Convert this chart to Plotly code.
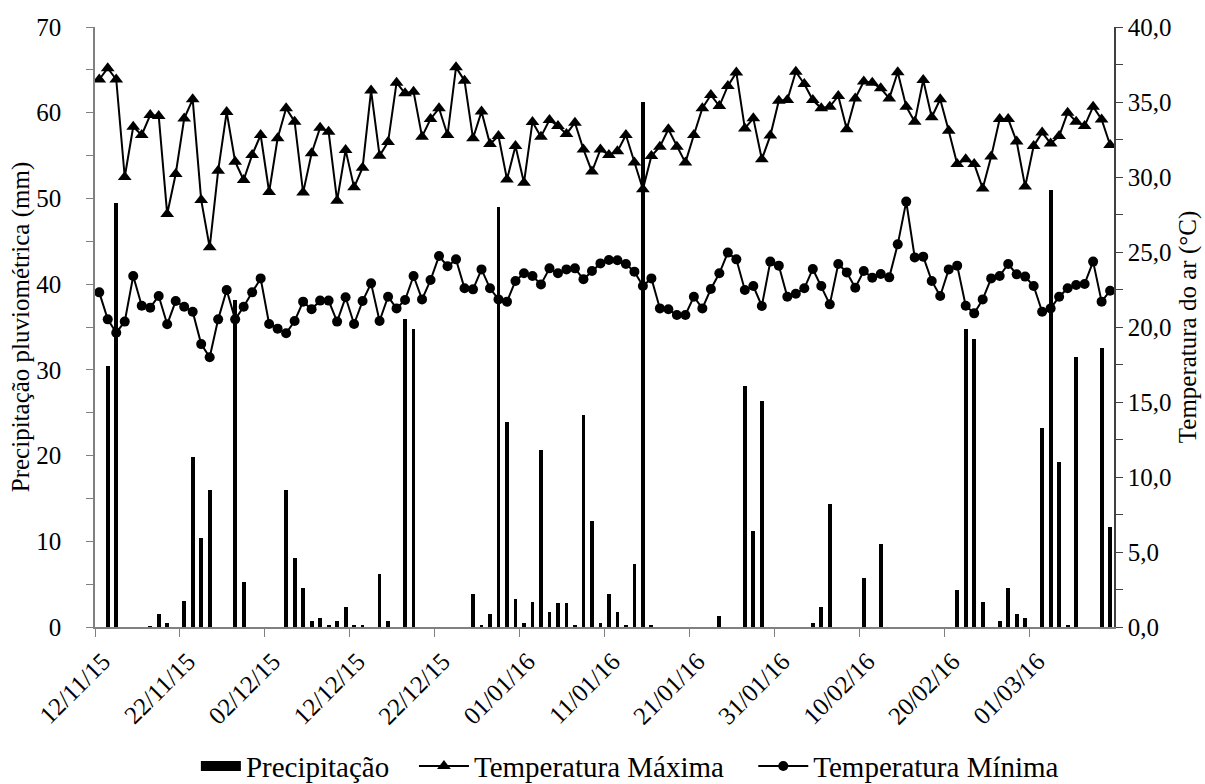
import pandas as pd
import plotly.graph_objects as go

start_date = "2015-11-12"
n_days = 120
dates = pd.date_range(start_date + " 12:00", periods=n_days, freq="D")

precip = [0, 30.4, 49.5, 0, 0, 0, 0.1, 1.5, 0.5, 0,
          3.0, 19.8, 10.4, 16.0, 0, 0, 38.1, 5.3, 0, 0,
          0, 0, 16.0, 8.1, 4.6, 0.7, 1.0, 0.25, 0.7, 2.3,
          0.25, 0.25, 0, 6.2, 0.7, 0, 35.9, 34.8, 0, 0,
          0, 0, 0, 0, 3.8, 0.25, 1.5, 49.0, 23.9, 3.3,
          0.5, 2.9, 20.6, 1.75, 2.8, 2.8, 0.25, 24.7, 12.4, 0.5,
          3.8, 1.75, 0.25, 7.35, 61.2, 0.25, 0, 0, 0, 0,
          0, 0, 0, 1.3, 0, 0, 28.1, 11.2, 26.4, 0,
          0, 0, 0, 0, 0.45, 2.3, 14.3, 0, 0, 0,
          5.7, 0, 9.7, 0, 0, 0, 0, 0, 0, 0,
          0, 4.3, 34.8, 33.6, 2.9, 0, 0.7, 4.5, 1.5, 1.0,
          0, 23.2, 51.0, 19.3, 0.25, 31.5, 0, 0, 32.5, 11.7]

tmax = [36.5, 37.25, 36.5, 30.0, 33.35, 32.8, 34.13, 34.07, 27.53, 30.2,
        33.9, 35.18, 28.47, 25.31, 30.42, 34.33, 31.02, 29.8, 31.47, 32.8,
        29.0, 32.58, 34.58, 33.69, 28.96, 31.58, 33.29, 33.02, 28.42, 31.8,
        29.31, 30.62, 35.76, 31.42, 32.33, 36.29, 35.58, 35.69, 32.69, 33.87,
        34.58, 32.8, 37.31, 36.42, 32.58, 34.36, 32.2, 32.73, 29.84, 32.07,
        29.62, 33.67, 32.69, 33.8, 33.4, 32.87, 33.62, 31.84, 30.36, 31.84,
        31.47, 31.71, 32.8, 30.96, 29.18, 31.4, 32.02, 33.18, 32.02, 30.96,
        32.8, 34.58, 35.47, 34.73, 36.07, 36.96, 33.24, 33.91, 31.18, 32.76,
        35.09, 35.13, 37.02, 36.2, 35.13, 34.58, 34.69, 35.4, 33.18, 35.24,
        36.36, 36.29, 35.91, 35.24, 36.98, 34.69, 33.69, 36.47, 33.98, 35.18,
        33.09, 30.87, 31.18, 30.87, 29.24, 31.36, 33.87, 33.87, 32.36, 29.36,
        32.07, 32.96, 32.24, 32.73, 34.29, 33.69, 33.4, 34.69, 33.84, 32.13]

tmin = [22.31, 20.51, 19.62, 20.36, 23.4, 21.42, 21.29, 22.07, 20.18, 21.73,
        21.35, 21.02, 18.86, 17.98, 20.51, 22.47, 20.51, 21.35, 22.31, 23.24,
        20.2, 19.89, 19.58, 20.4, 21.69, 21.18, 21.76, 21.76, 20.36, 21.98,
        20.2, 21.73, 22.91, 20.4, 22.02, 21.24, 21.8, 23.4, 21.84, 23.13,
        24.73, 24.05, 24.51, 22.58, 22.51, 23.84, 22.58, 21.84, 21.69, 23.07,
        23.58, 23.4, 22.84, 23.91, 23.58, 23.84, 23.91, 23.18, 23.73, 24.24,
        24.47, 24.45, 24.2, 23.69, 22.73, 23.24, 21.24, 21.18, 20.8, 20.8,
        22.02, 21.24, 22.53, 23.58, 24.96, 24.51, 22.47, 22.73, 21.4, 24.36,
        24.09, 22.02, 22.22, 22.58, 23.87, 22.73, 21.51, 24.2, 23.64, 22.62,
        23.73, 23.29, 23.53, 23.31, 25.51, 28.36, 24.64, 24.69, 23.07, 22.07,
        23.84, 24.09, 21.42, 20.91, 21.84, 23.24, 23.4, 24.2, 23.51, 23.36,
        22.73, 21.02, 21.24, 22.02, 22.58, 22.8, 22.87, 24.36, 21.69, 22.42]

names = ["Precipitação", "Temperatura Máxima", "Temperatura Mínima"]
left_title = "Precipitação pluviométrica (mm)"
right_title = "Temperatura do ar (°C)"

FONT = "Liberation Serif"
DAY_MS = 86400000

fig = go.Figure()
fig.add_trace(go.Bar(x=dates, y=precip, name=names[0], yaxis="y", showlegend=False,
                     marker=dict(color="black", line=dict(width=0)),
                     width=0.45 * DAY_MS))
# legend-only entry drawn as a wide black block like the reference
fig.add_trace(go.Scatter(x=[None], y=[None], name=names[0], yaxis="y", legend="legend",
                         mode="lines", line=dict(color="black", width=14)))
fig.add_trace(go.Scatter(x=dates, y=tmax, name=names[1], yaxis="y2", legend="legend2",
                         mode="lines+markers",
                         line=dict(color="black", width=2),
                         marker=dict(symbol="triangle-up", size=12, color="black")))
fig.add_trace(go.Scatter(x=dates, y=tmin, name=names[2], yaxis="y2", legend="legend3",
                         mode="lines+markers",
                         line=dict(color="black", width=2),
                         marker=dict(symbol="circle", size=10, color="black")))

end_ts = pd.Timestamp(start_date) + pd.Timedelta(days=n_days) - pd.Timedelta(hours=1)
end_date = end_ts.strftime("%Y-%m-%d %H:%M")

legend_common = dict(orientation="h", xanchor="left", y=-0.232, yanchor="middle",
                     font=dict(family=FONT, size=29), bgcolor="rgba(0,0,0,0)")

fig.update_layout(
    width=1205, height=784,
    margin=dict(l=95, r=91, t=27, b=157, autoexpand=False),
    paper_bgcolor="white", plot_bgcolor="white",
    separators=", ",
    font=dict(family=FONT, size=25, color="black"),
    showlegend=True,
    legend=dict(x=0.099, itemwidth=40, **legend_common),
    legend2=dict(x=0.313, itemwidth=50, **legend_common),
    legend3=dict(x=0.646, itemwidth=50, **legend_common),
    bargap=0,
    xaxis=dict(type="date", range=[start_date, end_date], automargin=False,
               tick0=start_date, dtick=10 * DAY_MS, tickformat="%d/%m/%y",
               tickangle=-45, ticks="outside", ticklen=8, tickcolor="#808080",
               showline=True, linecolor="#808080", linewidth=1.5,
               showgrid=False, zeroline=False, ticklabelshift=8,
               tickfont=dict(family=FONT, size=25)),
    yaxis=dict(range=[0, 70], dtick=10, ticks="outside", ticklen=7, automargin=False,
               tickcolor="#808080", showline=True, linecolor="#808080", linewidth=1.5,
               minor=dict(dtick=5, ticks="outside", ticklen=7, tickcolor="#808080"),
               showgrid=False, zeroline=False, ticklabelstandoff=20,
               title=dict(text=left_title, standoff=0, font=dict(family=FONT, size=25)),
               tickfont=dict(family=FONT, size=25)),
    yaxis2=dict(range=[0, 40], dtick=5, tickformat=".1f", overlaying="y", side="right",
                ticks="outside", ticklen=7, tickcolor="#404040", automargin=False,
                showline=True, linecolor="#404040", linewidth=1.5,
                minor=dict(dtick=2.5, ticks="outside", ticklen=7, tickcolor="#404040"),
                showgrid=False, zeroline=False, ticklabelstandoff=0,
                title=dict(text=right_title, standoff=8, font=dict(family=FONT, size=25)),
                tickfont=dict(family=FONT, size=25)),
    yaxis3=dict(range=[0, 70], dtick=5, overlaying="y", side="left", automargin=False,
                ticks="inside", ticklen=7, tickcolor="#808080",
                showticklabels=False, showline=False, showgrid=False, zeroline=False),
    yaxis4=dict(range=[0, 40], dtick=2.5, overlaying="y", side="right", automargin=False,
                ticks="inside", ticklen=7, tickcolor="#404040",
                showticklabels=False, showline=False, showgrid=False, zeroline=False),
)

fig.write_html("out.html", config={"displayModeBar": False},
               post_script="document.body.style.margin='0px';document.body.style.overflow='hidden';")
